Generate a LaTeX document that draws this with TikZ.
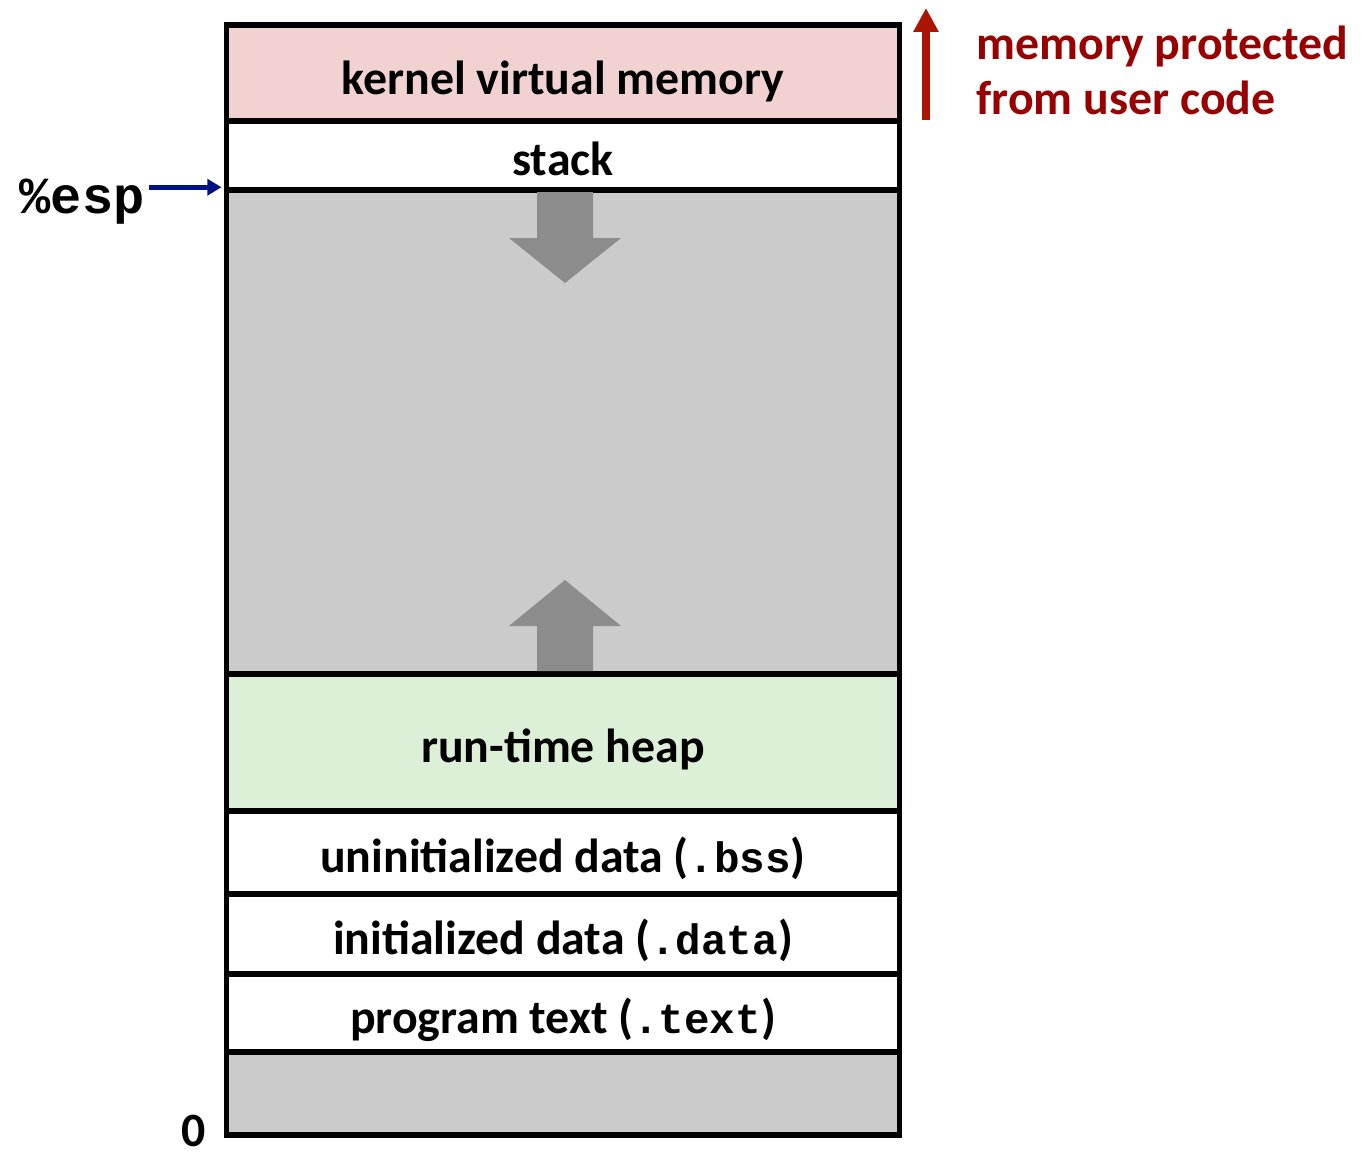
\documentclass[tikz,border=0pt]{standalone}
\usepackage{fontspec}
\setmainfont{Carlito}
\setmonofont{Liberation Mono}[Scale=0.89]
\usetikzlibrary{arrows.meta}

\definecolor{kernelpink}{RGB}{242,209,209}
\definecolor{freegray}{RGB}{203,203,203}
\definecolor{heapgreen}{RGB}{220,240,216}
\definecolor{growgray}{RGB}{140,140,140}
\definecolor{espblue}{RGB}{0,18,128}
\definecolor{protred}{RGB}{170,20,0}
\definecolor{prottext}{RGB}{153,0,0}

\begin{document}
\begin{tikzpicture}[x=0.01cm,y=-0.01cm,
    seg/.style={draw,line width=1.5pt,minimum width=6.72cm,inner sep=0pt,
        text height=14pt,text depth=2.6pt,font=\fontsize{13.6}{16}\selectfont\bfseries},
    growarrow/.style={fill=growgray}]
    \useasboundingbox (0,0) rectangle (1370,1154);

    \node[seg,fill=kernelpink,minimum height=0.96cm,text height=15pt] (kernel) at (563,73) {kernel virtual memory};
    \node[seg,fill=white,minimum height=0.69cm] (stack) at (563,155.5) {stack};
    \node[seg,fill=freegray,minimum height=4.84cm] (free) at (563,432) {};
    \node[seg,fill=heapgreen,minimum height=1.37cm] (heap) at (563,742.5) {run-time heap};
    \node[seg,fill=white,minimum height=0.83cm] (bss) at (563,852.5) {uninitialized data (\texttt{.bss})};
    \node[seg,fill=white,minimum height=0.80cm] (data) at (563,934) {initialized data (\texttt{.data})};
    \node[seg,fill=white,minimum height=0.78cm] (text) at (563,1013) {program text (\texttt{.text})};
    \node[seg,fill=freegray,minimum height=0.83cm] (bottom) at (563,1093.5) {};

    % stack grows down, heap grows up
    \fill[growarrow] (537,192) -- (593,192) -- (593,238) -- (621,238) -- (565,283) -- (509,238) -- (537,238) -- cycle;
    \fill[growarrow] (537,671) -- (593,671) -- (593,626) -- (621,626) -- (565,580) -- (509,626) -- (537,626) -- cycle;

    \node[anchor=base west,inner sep=0pt,font=\fontsize{16.6}{19}\selectfont\ttfamily\bfseries] (esp) at (19,213) {\%esp};
    \node[anchor=base,inner sep=0pt,font=\fontsize{13.6}{16}\selectfont\bfseries] (zero) at (194,1146) {0};
    \node[anchor=base west,inner sep=0pt,align=left,text=prottext,
        font=\fontsize{13.6}{15.6}\selectfont\bfseries] (prot) at (976,114) {memory protected\\from user code};

    \coordinate (protbot) at (926,120);
    \coordinate (prottop) at (926,8);

\draw [espblue,line width=1.5pt,-{Triangle[length=4pt,width=4.5pt]},shorten >=0.75pt] ([xshift=0.04cm]esp.east |- free.north west) to (free.north west);
\draw [protred,line width=2.5pt,-{Triangle[length=6.8pt,width=6.8pt]}] (protbot) to (prottop);
\end{tikzpicture}
\end{document}
